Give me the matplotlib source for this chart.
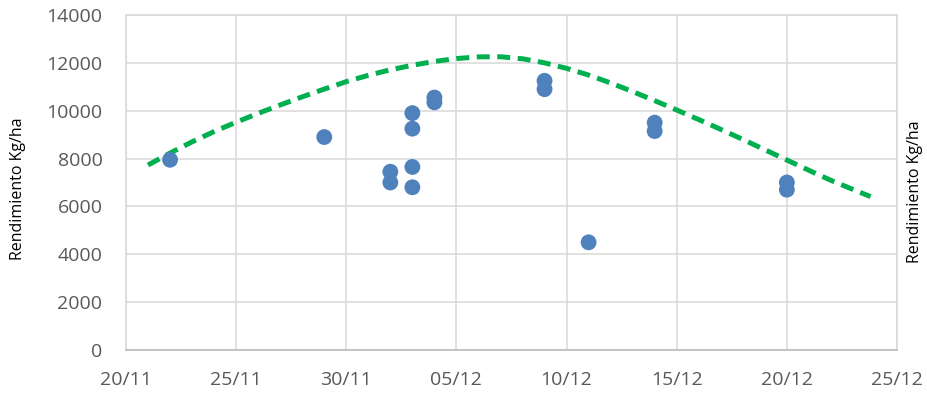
import matplotlib
matplotlib.use("Agg")
import matplotlib.pyplot as plt
import matplotlib.dates as mdates
import pandas as pd

plt.rcParams['font.family'] = ['Open Sans', 'DejaVu Sans']

# Sowing date vs. yield (kg/ha)
sow_dates = ["2017-11-22", "2017-11-29", "2017-12-02", "2017-12-02",
             "2017-12-03", "2017-12-03", "2017-12-03", "2017-12-03",
             "2017-12-04", "2017-12-04", "2017-12-09", "2017-12-09",
             "2017-12-11", "2017-12-14", "2017-12-14", "2017-12-20",
             "2017-12-20"]
yield_kg = [7950, 8900, 7450, 7000,
            9900, 9250, 7650, 6800,
            10550, 10350, 11250, 10900,
            4500, 9500, 9150, 7000,
            6700]

# Reference yield curve: days after 20/11 and yield
curve_start = "2017-11-20"
curve_days = [1.0, 2.0, 3.0, 4.0, 5.0, 6.0, 7.0, 8.0, 9.0, 10.0,
              11.0, 12.0, 13.0, 14.0, 15.0, 16.0, 17.0, 18.0, 19.0, 20.0,
              21.0, 22.0, 23.0, 24.0, 25.0, 26.0, 27.0, 28.0, 29.0, 30.0,
              31.0, 32.0, 33.0, 33.8]
curve_yield = [7730, 8230, 8700, 9130, 9520, 9890, 10240, 10580, 10905, 11215,
               11480, 11710, 11900, 12060, 12180, 12250, 12255, 12170, 12000, 11770,
               11490, 11160, 10800, 10420, 10030, 9630, 9220, 8800, 8370, 7940,
               7510, 7090, 6710, 6410]

x_ticks = ["2017-11-20", "2017-11-25", "2017-11-30", "2017-12-05",
           "2017-12-10", "2017-12-15", "2017-12-20", "2017-12-25"]
y_ticks = [0, 2000, 4000, 6000, 8000, 10000, 12000, 14000]
y_label = "Rendimiento Kg/ha"

fig = plt.figure(figsize=(9.28, 3.94), dpi=100)
ax = fig.add_axes([126 / 928, 44 / 394, 771 / 928, 335 / 394])

pts_x = pd.to_datetime(sow_dates)
curve_x = pd.Timestamp(curve_start) + pd.to_timedelta(curve_days, unit="D")

ax.plot(curve_x, curve_yield, color="#00B050", lw=3.6, dashes=(2.6, 1.5),
        solid_capstyle="butt", dash_capstyle="butt", zorder=3)
ax.scatter(pts_x, yield_kg, s=130, color="#4F81BD", edgecolors="none", zorder=4)

xt = pd.to_datetime(x_ticks)
ax.set_xlim(xt[0], xt[-1])
ax.set_xticks(xt)
ax.xaxis.set_major_formatter(mdates.DateFormatter("%d/%m"))
ax.set_ylim(y_ticks[0], y_ticks[-1])
ax.set_yticks(y_ticks)

ax.grid(True, color="#D9D9D9", lw=1.1)
ax.set_axisbelow(True)
for side in ["top", "right", "left"]:
    ax.spines[side].set_color("#D9D9D9")
    ax.spines[side].set_linewidth(1.1)
ax.spines["bottom"].set_color("#BFBFBF")
ax.spines["bottom"].set_linewidth(1.3)

ax.tick_params(axis="both", length=0, labelsize=14, labelcolor="#595959")
ax.tick_params(axis="y", pad=17)
ax.tick_params(axis="x", pad=15)

fig.text(18 / 928, 1 - 189 / 394, y_label, rotation=90, ha="center", va="center",
         fontsize=11.5, color="black")
fig.text(915 / 928, 1 - 192 / 394, y_label, rotation=90, ha="center", va="center",
         fontsize=11.5, color="black")

fig.savefig("out.png", dpi=100)
